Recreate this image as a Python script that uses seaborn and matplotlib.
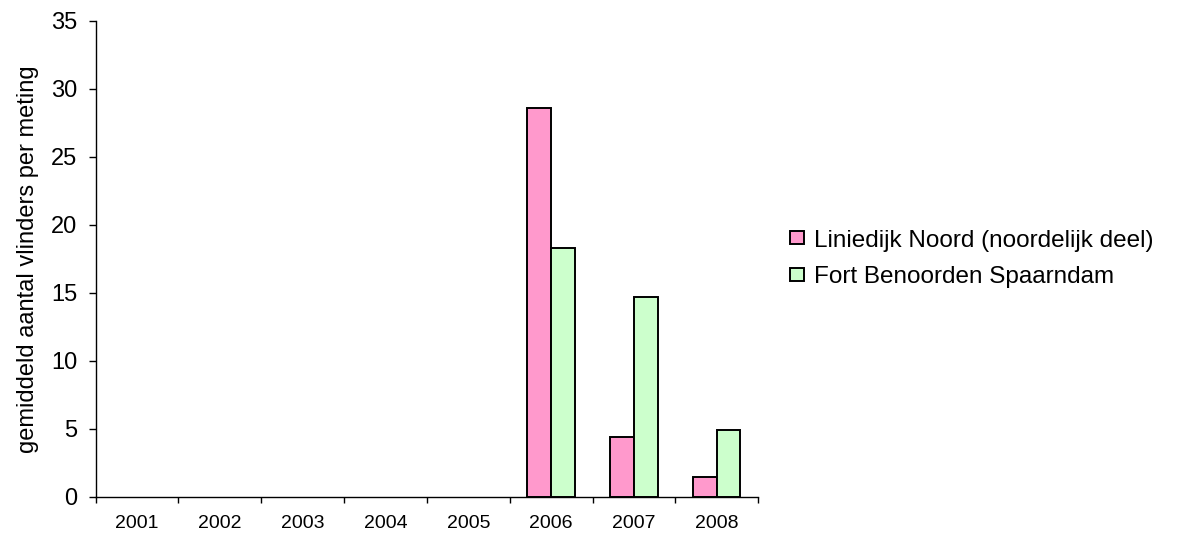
import numpy as np
import pandas as pd
import matplotlib
matplotlib.use("Agg")
import matplotlib.pyplot as plt
from matplotlib.ticker import FixedLocator
import seaborn as sns

years = ["2001", "2002", "2003", "2004", "2005", "2006", "2007", "2008"]
series_names = ["Liniedijk Noord (noordelijk deel)", "Fort Benoorden Spaarndam"]
liniedijk = [None, None, None, None, None, 28.6, 4.4, 1.45]
fort = [None, None, None, None, None, 18.3, 14.7, 4.95]
colors = ["#FF99CC", "#CCFFCC"]

rows = []
for name, vals in zip(series_names, [liniedijk, fort]):
    for y, v in zip(years, vals):
        if v is not None:
            rows.append({"jaar": y, "reeks": name, "waarde": v})
df = pd.DataFrame(rows)

sns.set_theme(style="white")
plt.rcParams["font.family"] = ["Liberation Sans", "DejaVu Sans"]
plt.rcParams["text.color"] = "black"
plt.rcParams["axes.labelcolor"] = "black"
plt.rcParams["xtick.color"] = "black"
plt.rcParams["ytick.color"] = "black"

fig = plt.figure(figsize=(11.81, 5.36), dpi=100)
ax = fig.add_axes([0.081, 0.073, 0.561, 0.888])

sns.barplot(data=df, x="jaar", y="waarde", hue="reeks", order=years,
            hue_order=series_names, palette=colors, width=2 / 3.5,
            edgecolor="black", linewidth=1.4, saturation=1, ax=ax,
            errorbar=None, dodge=True)

ax.set_xlim(-0.5, len(years) - 0.5)
ax.set_ylim(0, 35)
ax.set_yticks(np.arange(0, 36, 5))
ax.tick_params(axis="y", labelsize=17, length=5, width=1, direction="out",
               left=True, color="black", labelcolor="black", pad=8)
ax.tick_params(axis="x", which="major", labelsize=14, length=0, pad=13,
               labelcolor="black")
ax.xaxis.set_minor_locator(FixedLocator(np.arange(-0.5, len(years), 1.0)))
ax.tick_params(axis="x", which="minor", length=4, width=1, direction="out",
               bottom=True, color="black")

for side in ["top", "right"]:
    ax.spines[side].set_visible(False)
for side in ["left", "bottom"]:
    ax.spines[side].set_color("black")
    ax.spines[side].set_linewidth(1)

ax.set_xlabel("")
ax.set_ylabel("gemiddeld aantal vlinders per meting", fontsize=17, labelpad=9,
              color="black")

handles, labels = ax.get_legend_handles_labels()
leg = ax.legend(handles, labels, loc="center left", bbox_to_anchor=(1.048, 0.5),
                frameon=False, fontsize=17.5, handlelength=0.58, handleheight=0.45,
                handletextpad=0.4, labelspacing=0.6, borderpad=0, borderaxespad=0)
for t in leg.get_texts():
    t.set_color("black")

fig.savefig("out.png", dpi=100, facecolor="white")
